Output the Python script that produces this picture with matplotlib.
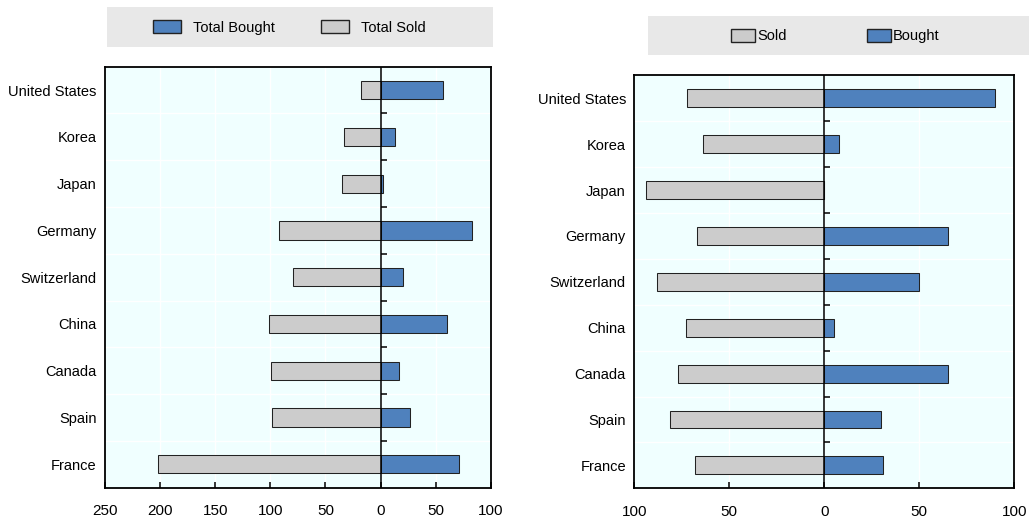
import matplotlib.pyplot as plt
from matplotlib.patches import Patch, Rectangle
import numpy as np

# Countries, top to bottom
countries = ['United States', 'Korea', 'Japan', 'Germany', 'Switzerland',
             'China', 'Canada', 'Spain', 'France']

# Left panel: totals
total_bought = [57, 13, 2, 83, 20, 60, 17, 27, 71]
total_sold = [18, 33, 35, 92, 79, 101, 99, 98, 202]

# Right panel
bought = [90, 8, 0, 65, 50, 5, 65, 30, 31]
sold = [72, 64, 94, 67, 88, 73, 77, 81, 68]

left_ticks = [-250, -200, -150, -100, -50, 0, 50, 100]
right_ticks = [-100, -50, 0, 50, 100]

BLUE = '#4F81BD'
GREY = '#CCCCCC'
BG = '#F0FFFF'
LEGEND_BG = '#E8E8E8'
FONT = ['Liberation Sans', 'DejaVu Sans']

plt.rcParams['font.family'] = FONT
plt.rcParams['font.size'] = 10.5

fig = plt.figure(figsize=(10.29, 5.22), dpi=100)


def draw_panel(ax, pos, neg, xlim, ticks):
    y = np.arange(len(countries))
    ax.set_facecolor(BG)
    h = 0.39
    ax.barh(y, [-v for v in neg], height=h, color=GREY, edgecolor='#222222',
            linewidth=0.75, zorder=3)
    ax.barh(y, pos, height=h, color=BLUE, edgecolor='#222222',
            linewidth=0.75, zorder=3)
    ax.set_xlim(*xlim)
    ax.set_ylim(len(countries) - 0.5, -0.5)
    ax.set_yticks(y)
    ax.set_yticklabels(countries, fontsize=10.5)
    ax.set_xticks(ticks)
    ax.set_xticklabels([str(abs(t)) for t in ticks], fontsize=11)
    ax.tick_params(axis='y', length=0, pad=6)
    ax.tick_params(axis='x', direction='in', length=4.3, width=1.1, pad=12)
    # white grid
    for t in ticks[1:-1]:
        ax.axvline(t, color='white', lw=1.0, zorder=1)
    bounds = np.arange(len(countries) - 1) + 0.5
    for b in bounds:
        ax.axhline(b, color='white', lw=1.0, zorder=1)
    # zero line with small ticks at category boundaries
    ax.axvline(0, color='black', lw=1.1, zorder=4)
    ax.plot(np.zeros(len(bounds)), bounds, linestyle='none', marker=1,
            markersize=4, markeredgewidth=1.1, color='black', zorder=4)
    for s in ax.spines.values():
        s.set_linewidth(1.3)
        s.set_color('black')


# Left panel
ax1 = fig.add_axes([0.1020, 0.0657, 0.3749, 0.8065])
draw_panel(ax1, total_bought, total_sold, (-250, 100), left_ticks)

# Right panel
ax2 = fig.add_axes([0.6164, 0.0646, 0.3693, 0.7911])
draw_panel(ax2, bought, sold, (-100, 100), right_ticks)

# Legend boxes
fig.patches.append(Rectangle((0.1037, 0.9105), 0.3751, 0.0767,
                             transform=fig.transFigure, facecolor=LEGEND_BG,
                             edgecolor='none', zorder=0))
fig.patches.append(Rectangle((0.630, 0.894), 0.370, 0.076,
                             transform=fig.transFigure, facecolor=LEGEND_BG,
                             edgecolor='none', zorder=0))

h_left = [Patch(facecolor=BLUE, edgecolor='#222222', label='Total Bought'),
          Patch(facecolor=GREY, edgecolor='#222222', label='Total Sold')]
fig.legend(handles=h_left, loc='center', bbox_to_anchor=(0.2813, 0.947),
           ncol=2, frameon=False, fontsize=10.5, handlelength=1.9,
           handleheight=0.96, handletextpad=0.8, columnspacing=3.2)

h_right = [Patch(facecolor=GREY, edgecolor='#222222', label='Sold'),
           Patch(facecolor=BLUE, edgecolor='#222222', label='Bought')]
fig.legend(handles=h_right, loc='center', bbox_to_anchor=(0.8115, 0.931),
           ncol=2, frameon=False, fontsize=10.5, handlelength=1.7,
           handleheight=0.96, handletextpad=0.1, columnspacing=5.5)

fig.savefig('out.png', dpi=100)
